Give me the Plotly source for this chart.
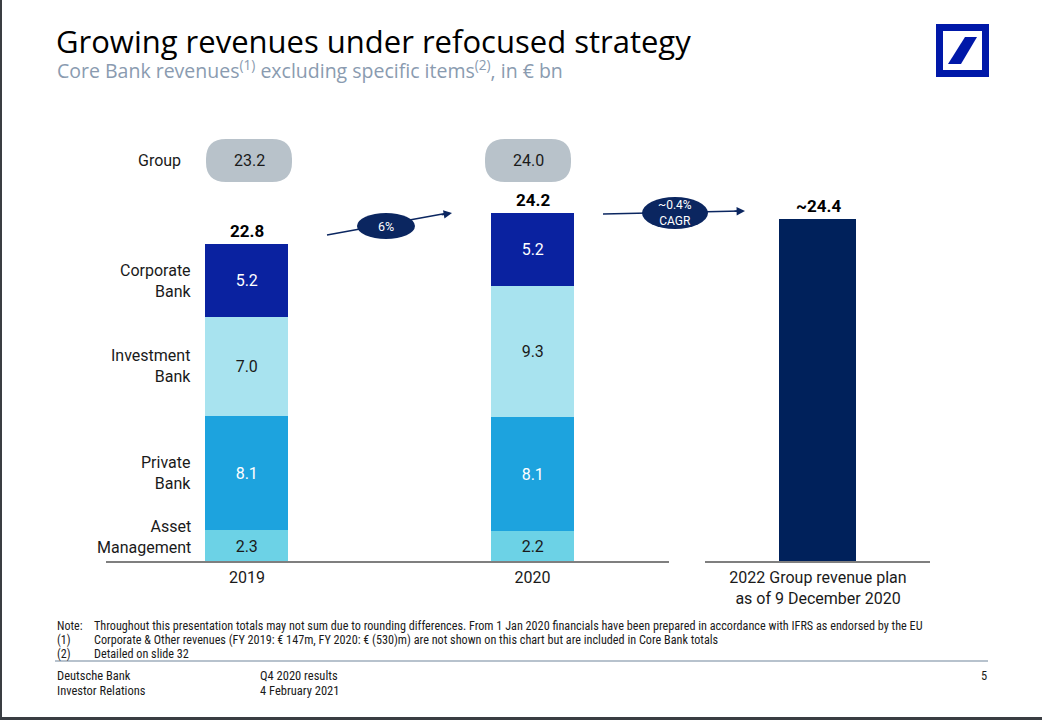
import math
import plotly.graph_objects as go

# ---------------- data ----------------
categories = ["2019", "2020", "2022 Group revenue plan<br>as of 9 December 2020"]
segments = ["Asset<br>Management", "Private<br>Bank", "Investment<br>Bank", "Corporate<br>Bank"]
asset_management = [2.3, 2.2, None]
private_bank = [8.1, 8.1, None]
investment_bank = [7.0, 9.3, None]
corporate_bank = [5.2, 5.2, None]
core_bank_totals = ["22.8", "24.2", "~24.4"]
group_plan_2022 = [None, None, 24.4]
group_revenues = ["23.2", "24.0"]
growth_labels = ["6%", "~0.4%<br>CAGR"]

# ---------------- styles ----------------
W, H = 1042, 720
FONT = "Roboto"
seg_colors = ["#6CD2E6", "#1DA3DE", "#A8E3EF", "#0A22A0"]
seg_text = ["#1a1a1a", "white", "#1a1a1a", "white"]
NAVY = "#0B2660"

def px(x):
    return x / W

def py(y):
    return 1 - y / H

fig = go.Figure()
series = [asset_management, private_bank, investment_bank, corporate_bank]
for name, vals, col, tcol in zip(segments, series, seg_colors, seg_text):
    fig.add_trace(go.Bar(
        x=categories, y=vals, name=name.replace("<br>", " "),
        marker=dict(color=col, line=dict(width=0)), width=0.29,
        text=[f"{v:.1f}" if v is not None else "" for v in vals],
        textposition="inside", insidetextanchor="middle",
        textfont=dict(family=FONT, size=16, color=tcol),
        hoverinfo="skip",
    ))
fig.add_trace(go.Bar(
    x=categories, y=group_plan_2022, name="2022 plan",
    marker=dict(color="#00215B", line=dict(width=0)), width=0.27,
    hoverinfo="skip",
))

# totals above bars (x given as category index)
stack_tops = []
for i in range(3):
    s = sum(v[i] for v in series if v[i] is not None)
    if group_plan_2022[i] is not None:
        s = group_plan_2022[i]
    stack_tops.append(s)
annotations = []
for i in range(len(categories)):
    annotations.append(dict(x=i, y=stack_tops[i], xref="x", yref="y", text=f"<b>{core_bank_totals[i]}</b>",
                            showarrow=False, xanchor="center", yanchor="bottom", yshift=1,
                            font=dict(family=FONT, size=17, color="black")))

# segment labels to the left of the 2019 bar
cum = 0
for name, vals in zip(segments, series):
    mid = cum + vals[0] / 2
    cum += vals[0]
    shift = 9 if name.startswith("Asset") else 0
    annotations.append(dict(x=px(193), y=mid, xref="paper", yref="y", text=name, showarrow=False,
                            xanchor="right", yanchor="middle", align="right", yshift=shift,
                            font=dict(family=FONT, size=16, color="#1a1a1a")))

shapes = []
# Group pills
annotations.append(dict(x=px(183), y=py(160), xref="paper", yref="paper", text="Group", showarrow=False,
                        xanchor="right", yanchor="middle", font=dict(family=FONT, size=16, color="#1a1a1a")))
for cx, val in zip([249, 528], group_revenues):
    x0, x1, y0, y1, r = cx - 43, cx + 43, 139, 182, 20
    path = (f"M {px(x0+r)},{py(y0)} L {px(x1-r)},{py(y0)} Q {px(x1)},{py(y0)} {px(x1)},{py(y0+r)} "
            f"L {px(x1)},{py(y1-r)} Q {px(x1)},{py(y1)} {px(x1-r)},{py(y1)} L {px(x0+r)},{py(y1)} "
            f"Q {px(x0)},{py(y1)} {px(x0)},{py(y1-r)} L {px(x0)},{py(y0+r)} Q {px(x0)},{py(y0)} {px(x0+r)},{py(y0)} Z")
    shapes.append(dict(type="path", path=path, xref="paper", yref="paper", fillcolor="#B8C2CA", line=dict(width=0), layer="below"))
    annotations.append(dict(x=px(cx), y=py(160), xref="paper", yref="paper", text=val, showarrow=False,
                            xanchor="center", yanchor="middle",
                            font=dict(family=FONT, size=16, color="#1a1a1a")))

# growth arrows with ellipses
arrows = [((327, 235), (452, 213), (386, 226), 29, 13, growth_labels[0], 12.5),
          ((603, 214), (745, 211), (675, 213), 33, 16, growth_labels[1], 12)]
for (sx, sy), (ex, ey), (cx, cy), rx, ry, lab, fs in arrows:
    shapes.append(dict(type="line", xref="paper", yref="paper", x0=px(sx), y0=py(sy), x1=px(ex - 4), y1=py(ey),
                       line=dict(color=NAVY, width=1.4), layer="above"))
    L = math.hypot(ex - sx, ey - sy)
    annotations.append(dict(x=px(ex), y=py(ey), ax=(sx - ex) * 12 / L, ay=(sy - ey) * 12 / L,
                            xref="paper", yref="paper", axref="pixel", ayref="pixel", text="",
                            showarrow=True, arrowhead=2, arrowsize=1.2, arrowwidth=1.4, arrowcolor=NAVY))
    shapes.append(dict(type="circle", xref="paper", yref="paper", x0=px(cx - rx), x1=px(cx + rx),
                       y0=py(cy + ry), y1=py(cy - ry), fillcolor=NAVY, line=dict(width=0), layer="above"))
    annotations.append(dict(x=px(cx), y=py(cy), xref="paper", yref="paper", text=lab, showarrow=False,
                            xanchor="center", yanchor="middle",
                            font=dict(family=FONT, size=fs, color="white")))

# baselines
shapes.append(dict(type="line", xref="paper", yref="paper", x0=px(106), x1=px(669), y0=py(562), y1=py(562),
                   line=dict(color="#7F7F7F", width=2)))
shapes.append(dict(type="line", xref="paper", yref="paper", x0=px(705), x1=px(930), y0=py(562), y1=py(562),
                   line=dict(color="#7F7F7F", width=2)))

# title & subtitle
annotations.append(dict(x=px(54), y=py(41), xref="paper", yref="paper", text="Growing revenues under refocused strategy",
                        showarrow=False, xanchor="left", yanchor="middle",
                        font=dict(family="Open Sans", size=31, color="black")))
annotations.append(dict(x=px(55), y=py(70), xref="paper", yref="paper",
                        text="Core Bank revenues<sup>(1)</sup> excluding specific items<sup>(2)</sup>, in € bn",
                        showarrow=False, xanchor="left", yanchor="middle",
                        font=dict(family="Open Sans", size=19.5, color="#8A9BB0")))

# logo
shapes.append(dict(type="rect", xref="paper", yref="paper", x0=px(936), x1=px(989), y0=py(77), y1=py(24),
                   fillcolor="#0018A8", line=dict(width=0)))
shapes.append(dict(type="rect", xref="paper", yref="paper", x0=px(943), x1=px(982), y0=py(70), y1=py(31),
                   fillcolor="white", line=dict(width=0)))
shapes.append(dict(type="path", xref="paper", yref="paper",
                   path=f"M {px(948)},{py(64)} L {px(961)},{py(64)} L {px(977)},{py(37)} L {px(965)},{py(37)} Z",
                   fillcolor="#0018A8", line=dict(width=0)))

# footer
FF = "Liberation Sans Narrow, Roboto Condensed, Arial Narrow, sans-serif"
notes = [("Note:", "Throughout this presentation totals may not sum due to rounding differences. From 1 Jan 2020 financials have been prepared in accordance with IFRS as endorsed by the EU", 626),
         ("(1)", "Corporate & Other revenues (FY 2019: € 147m, FY 2020: € (530)m) are not shown on this chart but are included in Core Bank totals", 640),
         ("(2)", "Detailed on slide 32", 654)]
for a, b, y in notes:
    annotations.append(dict(x=px(55), y=py(y), xref="paper", yref="paper", text=a, showarrow=False,
                            xanchor="left", yanchor="middle", font=dict(family=FF, size=12, color="#1a1a1a")))
    annotations.append(dict(x=px(92), y=py(y), xref="paper", yref="paper", text=b, showarrow=False,
                            xanchor="left", yanchor="middle", font=dict(family=FF, size=12.2, color="#1a1a1a")))
shapes.append(dict(type="line", xref="paper", yref="paper", x0=px(55), x1=px(988), y0=py(661), y1=py(661),
                   line=dict(color="#B7C2CD", width=2)))
for x, t, y in [(55, "Deutsche Bank", 675), (55, "Investor Relations", 690), (258, "Q4 2020 results", 675), (258, "4 February 2021", 690)]:
    annotations.append(dict(x=px(x), y=py(y), xref="paper", yref="paper", text=t, showarrow=False,
                            xanchor="left", yanchor="middle", font=dict(family=FF, size=12.5, color="#1a1a1a")))
annotations.append(dict(x=px(989), y=py(675), xref="paper", yref="paper", text="5", showarrow=False,
                        xanchor="right", yanchor="middle", font=dict(family=FF, size=12.5, color="#1a1a1a")))

# slide frame
shapes.append(dict(type="rect", xref="paper", yref="paper", x0=0, x1=px(2), y0=0, y1=1,
                   fillcolor="#3A3D42", line=dict(width=0)))
shapes.append(dict(type="rect", xref="paper", yref="paper", x0=0, x1=1, y0=0, y1=py(717),
                   fillcolor="#3A3D42", line=dict(width=0)))

# axis geometry: baseline at y=562 px, ~14.07 px per bn
y_top_val = 28
ppu = 14.07
fig.update_layout(
    width=W, height=H, margin=dict(l=0, r=0, t=0, b=0),
    paper_bgcolor="white", plot_bgcolor="white",
    barmode="stack", showlegend=False, bargap=0,
    xaxis=dict(domain=[104.25 / W, 960.75 / W], range=[-0.5, 2.5], type="category",
               showgrid=False, zeroline=False, showline=False, ticks="", ticklabelstandoff=4,
               tickfont=dict(family=FONT, size=16, color="#1a1a1a"), fixedrange=True),
    yaxis=dict(domain=[py(562), py(562 - y_top_val * ppu)], range=[0, y_top_val], visible=False, fixedrange=True),
    annotations=annotations, shapes=shapes,
)
fig.write_html("out.html", config={"displayModeBar": False},
               post_script="document.body.style.margin='0';document.body.style.overflow='hidden';")
